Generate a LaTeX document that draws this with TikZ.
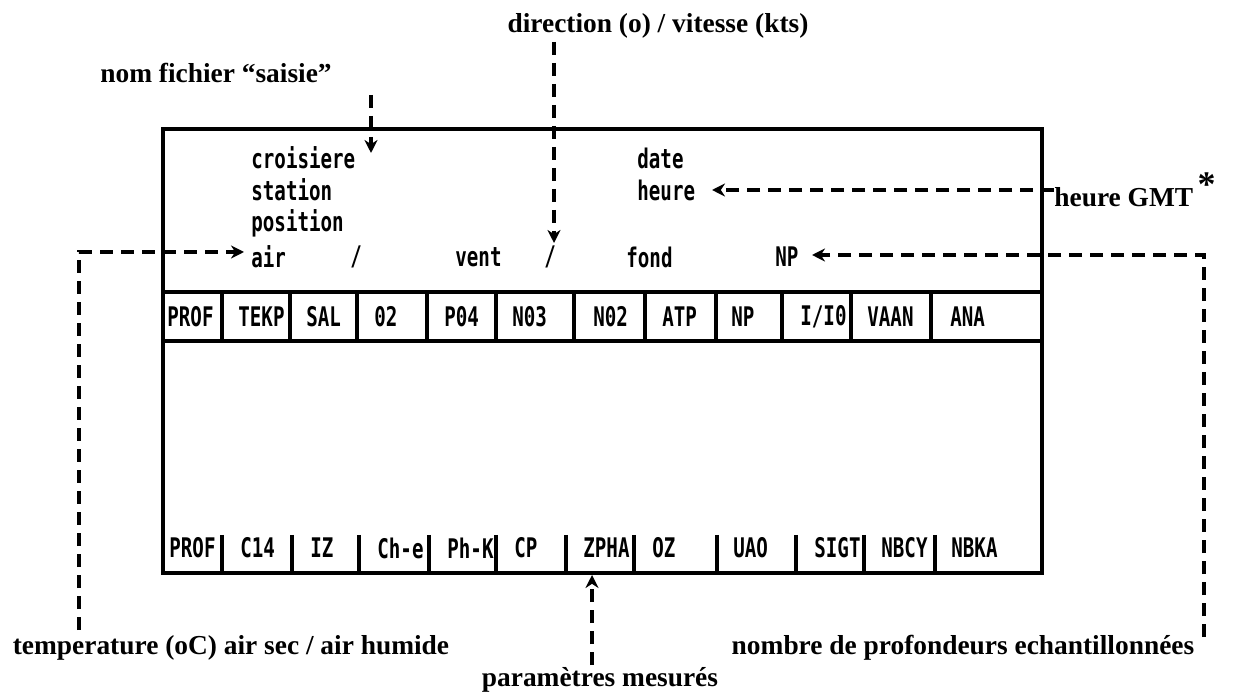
\documentclass[tikz,border=0pt]{standalone}
\usepackage{fontspec}
\setmainfont{Liberation Serif}
\newfontfamily\boxfont{DejaVu Sans Mono}[FakeStretch=0.71]
\usetikzlibrary{arrows.meta}
\tikzset{
  lbl/.style={font=\bfseries\fontsize{13.7}{16}\selectfont, inner sep=0pt},
  btxt/.style={font=\boxfont\bfseries\fontsize{13.5}{15}\selectfont, anchor=west, inner sep=0pt},
  ctxt/.style={font=\boxfont\bfseries\fontsize{13.5}{15}\selectfont, anchor=west, inner sep=0pt},
  frame/.style={line width=1.6pt},
  dline/.style={line width=1.6pt, dash pattern=on 6.5pt off 4pt},
  arr/.style={dline, -{Stealth[length=6.5pt,width=6.5pt]}},
}
\begin{document}
\begin{tikzpicture}[x=0.5pt,y=-0.5pt]
\useasboundingbox (0,0) rectangle (1236,694);
% outer frame and rows
\coordinate (boxNW) at (163,129);
\coordinate (boxSE) at (1042,573);
\draw[frame] (boxNW) rectangle (boxSE);
\draw[frame] (163,292) -- (1042,292);
\draw[frame] (163,341) -- (1042,341);
\foreach \x in {222,290,357,427,496,574,645,716,782,851,931}
  \draw[frame] (\x,292) -- (\x,341);
\foreach \x in {222,292,359,429,496,566,634,717,796,864,935}
  \draw[frame] (\x,535) -- (\x,573);
% header labels
\node[ctxt] (h1) at (167,317) {PROF};
\node[ctxt] (h2) at (238,317) {TEKP};
\node[ctxt] (h3) at (306,317) {SAL};
\node[ctxt] (h4) at (374,317) {02};
\node[ctxt] (h5) at (444,317) {P04};
\node[ctxt] (h6) at (512,317) {N03};
\node[ctxt] (h7) at (593,317) {N02};
\node[ctxt] (h8) at (662,317) {ATP};
\node[ctxt] (h9) at (731,317) {NP};
\node[ctxt] (h10) at (800,317) {I/I0};
\node[ctxt] (h11) at (867,317) {VAAN};
\node[ctxt] (h12) at (950,317) {ANA};
% bottom labels
\node[ctxt] (b1) at (169,548) {PROF};
\node[ctxt] (b2) at (240,548) {C14};
\node[ctxt] (b3) at (310,548) {IZ};
\node[ctxt] (b4) at (377,548) {Ch-e};
\node[ctxt] (b5) at (447,548) {Ph-K};
\node[ctxt] (b6) at (514,548) {CP};
\node[ctxt] (b7) at (583,548) {ZPHA};
\node[ctxt] (b8) at (652,548) {OZ};
\node[ctxt] (b9) at (733,548) {UAO};
\node[ctxt] (b10) at (814,548) {SIGT};
\node[ctxt] (b11) at (881,548) {NBCY};
\node[ctxt] (b12) at (951,548) {NBKA};
% upper fields
\node[btxt] (croisiere) at (251,158) {croisiere};
\node[btxt] (station) at (251,190) {station};
\node[btxt] (position) at (251,223) {position};
\node[btxt] (air) at (251,257) {air};
\node[btxt] (sl1) at (350,257) {/};
\node[btxt] (vent) at (455,257) {vent};
\node[btxt] (sl2) at (544,257) {/};
\node[btxt] (fond) at (626,257) {fond};
\node[btxt] (np) at (775,257) {NP};
\node[btxt] (date) at (637,158) {date};
\node[btxt] (heure) at (637,190) {heure};
% outside labels
\node[lbl] (dir) at (658,26) {direction (o) / vitesse (kts)};
\node[lbl] (nom) at (216,73) {nom fichier “saisie”};
\node[lbl, anchor=west] (gmt) at (1054,190) {heure GMT\,\raisebox{5pt}{\fontsize{18}{18}\selectfont *}};
\node[lbl] (temp) at (231,648) {temperature (oC) air sec / air humide};
\node[lbl] (nombre) at (963,648) {nombre de profondeurs echantillonnées};
\node[lbl] (param) at (600,680) {paramètres mesurés};
% connector points
\coordinate (nomA) at (371,95);
\coordinate (nomB) at (371,153);
\coordinate (dirA) at (554,42);
\coordinate (dirB) at (554,243);
\coordinate (gmtB) at (712,190);
\coordinate (npA) at (1204,637);
\coordinate (npC) at (1204,255);
\coordinate (npB) at (812,255);
\coordinate (airA) at (79,630);
\coordinate (airC) at (79,252);
\coordinate (airB) at (244,252);
\coordinate (parA) at (592,665);
\coordinate (parB) at (592,575);
% connectors
\draw[arr] (nomA) -- (nomB);
\draw[arr] (dirA) -- (dirB);
\draw[arr] (gmt.west) -- (gmtB);
\draw[arr] (npA) -- (npC) -- (npB);
\draw[arr] (airA) -- (airC) -- (airB);
\draw[arr] (parA) -- (parB);
\end{tikzpicture}
\end{document}
